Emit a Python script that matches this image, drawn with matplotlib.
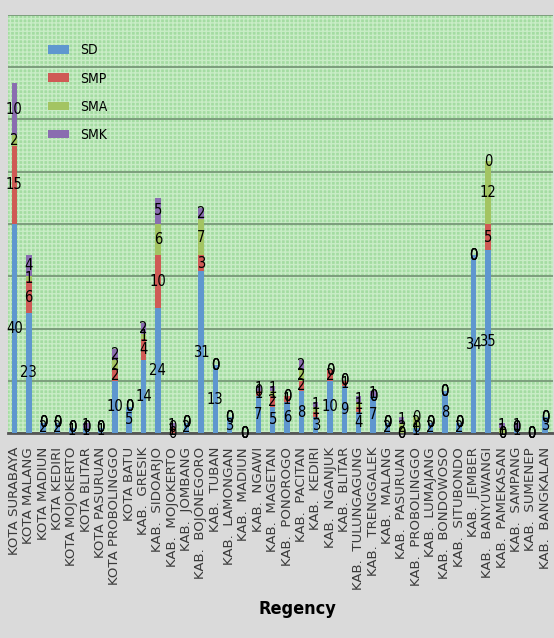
import matplotlib.pyplot as plt
from matplotlib import font_manager
from matplotlib.patches import Rectangle
import numpy as np

regency = ["KOTA SURABAYA", "KOTA MALANG", "KOTA MADIUN", "KOTA KEDIRI",
           "KOTA MOJOKERTO", "KOTA BLITAR", "KOTA PASURUAN", "KOTA PROBOLINGGO",
           "KOTA BATU", "KAB.  GRESIK", "KAB.  SIDOARJO", "KAB.  MOJOKERTO",
           "KAB.  JOMBANG", "KAB.  BOJONEGORO", "KAB.  TUBAN", "KAB.  LAMONGAN",
           "KAB.  MADIUN", "KAB.  NGAWI", "KAB.  MAGETAN", "KAB.  PONOROGO",
           "KAB.  PACITAN", "KAB.  KEDIRI", "KAB.  NGANJUK", "KAB.  BLITAR",
           "KAB.  TULUNGAGUNG", "KAB.  TRENGGALEK", "KAB.  MALANG", "KAB.  PASURUAN",
           "KAB.  PROBOLINGGO", "KAB.  LUMAJANG", "KAB.  BONDOWOSO", "KAB.  SITUBONDO",
           "KAB.  JEMBER", "KAB.  BANYUWANGI", "KAB.  PAMEKASAN", "KAB.  SAMPANG",
           "KAB.  SUMENEP", "KAB.  BANGKALAN"]

sd  = [40, 23, 2, 2, 1, 1, 1, 10, 5, 14, 24, 0, 2, 31, 13, 3, 0, 7, 5, 6,
       8, 3, 10, 9, 4, 7, 2, 0, 1, 2, 8, 2, 34, 35, 0, 1, 0, 3]
smp = [15, 6, 0, 0, 0, 0, 0, 2, 0, 4, 10, 1, 0, 3, 0, 0, 0, 1, 2, 1,
       2, 1, 2, 1, 1, 0, 0, 0, 0, 0, 0, 0, 0, 5, 0, 0, 0, 0]
sma = [2, 1, 0, 0, 0, 0, 0, 2, 0, 1, 6, 0, 0, 7, 0, 0, 0, 0, 1, 0,
       2, 1, 0, 0, 1, 0, 0, 2, 2, 0, 0, 0, 0, 12, 1, 0, 0, 0]
smk = [10, 4, 0, 0, 0, 1, 0, 2, 0, 2, 5, 1, 0, 2, 0, 0, 0, 1, 1, 0,
       2, 1, 0, 0, 1, 1, 0, 1, 0, 0, 0, 0, 0, 0, 1, 1, 0, 0]

series = [("SD", sd, "#5f97cf"), ("SMP", smp, "#cf5a55"),
          ("SMA", sma, "#a3c462"), ("SMK", smk, "#8a6db0")]

# narrow face for the labels, if one is around
names = {f.name for f in font_manager.fontManager.ttflist}
narrow = [n for n in ["Liberation Sans Narrow", "DejaVu Sans Condensed"] if n in names]
narrow = narrow + ["DejaVu Sans"]

fig = plt.figure(figsize=(5.54, 6.38), dpi=100, facecolor="#dadada")
ax = fig.add_axes([0.0144, 0.3213, 0.984, 0.6552])
ax.set_facecolor("#a4dca2")
# fine grainy texture over the plot area
ax.add_patch(Rectangle((0, 0), 1, 1, transform=ax.transAxes, facecolor="none",
                       edgecolor="#c9ecc6", hatch="++++", linewidth=0, zorder=0.5))

x = np.arange(len(regency))
bottom = np.zeros(len(regency))
for name, vals, col in series:
    bars = ax.bar(x, vals, 0.38, bottom=bottom, color=col, label=name, zorder=3)
    ax.bar_label(bars, labels=[str(v) for v in vals], label_type="center",
                 fontsize=10.5, family=narrow, stretch="condensed",
                 color="black", zorder=4)
    bottom += np.array(vals)

ax.set_ylim(0, 80)
ax.set_xlim(-0.45, 37.55)
ax.set_yticks(np.arange(0, 81, 10))
ax.yaxis.grid(True, color="#789878", linewidth=1.3, zorder=1)
ax.tick_params(axis="y", left=False, labelleft=False)
ax.tick_params(axis="x", length=0, pad=10)
ax.set_xticks(x)
ax.set_xticklabels(regency, rotation=90, fontsize=9.6, color="#3a3a3a")
for s in ["top", "right", "left"]:
    ax.spines[s].set_visible(False)
ax.spines["bottom"].set_color("#555555")
ax.spines["bottom"].set_linewidth(2)

ax.set_xlabel("Regency", fontsize=13, fontweight="bold", family=narrow,
              stretch="condensed")
ax.xaxis.set_label_coords(0.53, -0.40)

leg = ax.legend(loc="upper left", bbox_to_anchor=(0.05, 0.962), frameon=False,
                labelspacing=1.02, handlelength=1.5, handleheight=0.55,
                prop={"family": narrow, "size": 10, "stretch": "condensed"})

fig.savefig("out.png", dpi=100, facecolor=fig.get_facecolor())
